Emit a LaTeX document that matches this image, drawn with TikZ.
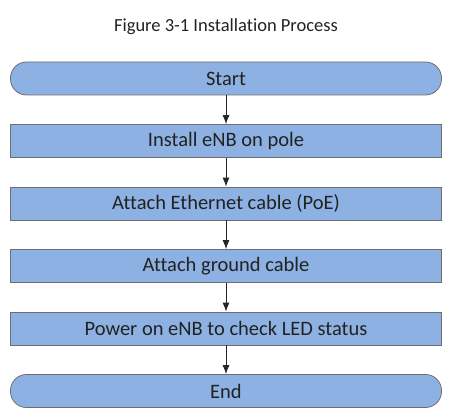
\documentclass[tikz,border=0pt]{standalone}
\usepackage{fontspec}
\setmainfont{Carlito}[Ligatures=NoCommon]
\usetikzlibrary{arrows.meta,positioning}

\definecolor{boxblue}{HTML}{8DB1E2}
\definecolor{boxedge}{HTML}{6E6E6E}
\definecolor{inktext}{HTML}{222222}

\begin{document}
\begin{tikzpicture}[auto,
                    node distance=28.7pt,
                    block_end/.style ={rectangle, rounded corners=16pt, draw=boxedge, line width=0.8pt, fill=boxblue,
                        minimum width=431pt, minimum height=33pt, inner sep=0pt, text=inktext, font=\fontsize{20.5}{24}\selectfont},
                    block_step/.style ={rectangle, draw=boxedge, line width=0.8pt, fill=boxblue,
                        minimum width=431pt, minimum height=33pt, inner sep=0pt, text=inktext, font=\fontsize{20.5}{24}\selectfont},
                    line/.style ={draw=black!85, line width=0.9pt, -{Latex[length=9pt,width=7pt]}, shorten >=0pt}]
    \useasboundingbox (0,0) rectangle (462pt,-414pt);

    % title
    \node[text=inktext, font=\fontsize{18.5}{22}\selectfont] (title) at (226pt,-27pt) {Figure 3-1 Installation Process};

    % flowchart steps
    \node [block_end] (start) at (226pt,-78.5pt) {Start};
    \node [block_step, below=of start] (pole) {Install eNB on pole};
    \node [block_step, below=of pole] (ether) {Attach Ethernet cable (PoE)};
    \node [block_step, below=of ether] (ground) {Attach ground cable};
    \node [block_step, below=of ground] (power) {Power on eNB to check LED status};
    \node [block_end, below=of power] (finish) {End};

    % connecting nodes with paths
    \begin{scope}[every path/.style=line]
        \path (start) -- (pole);
        \path (pole) -- (ether);
        \path (ether) -- (ground);
        \path (ground) -- (power);
        \path (power) -- (finish);
    \end{scope}
\end{tikzpicture}
\end{document}
